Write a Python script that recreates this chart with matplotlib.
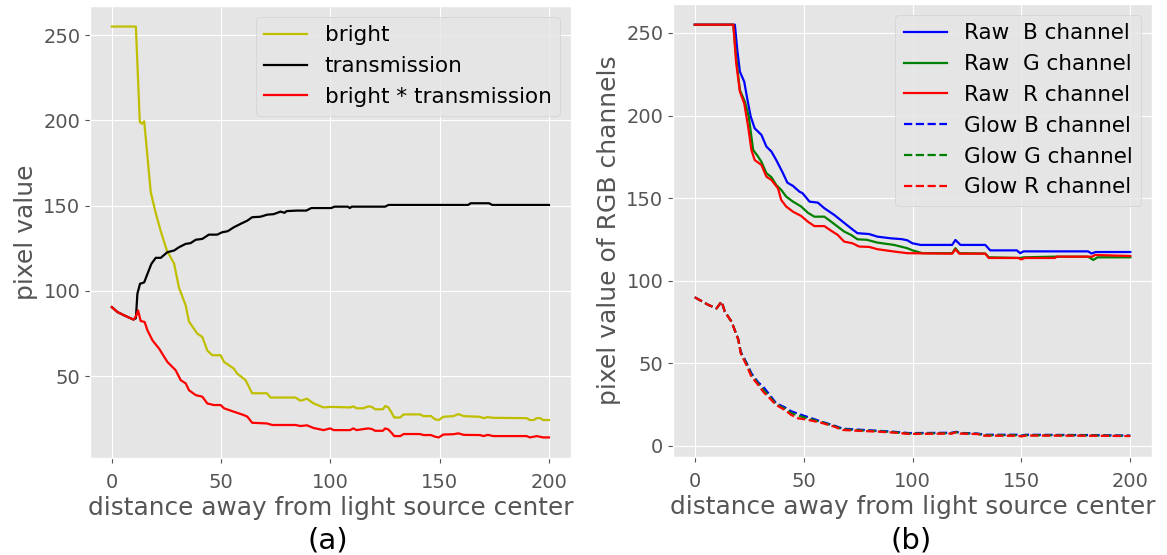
import matplotlib
matplotlib.use("Agg")
import matplotlib.pyplot as plt

plt.style.use("ggplot")

# ---- (a) bright / transmission ----
bright = [(0, 255), (11, 255), (12.8, 199), (13.8, 198), (14.8, 199.5), (15.5, 190),
          (17.8, 158), (20, 146), (22.4, 135), (25.1, 124), (28.5, 116), (30.7, 102),
          (33.8, 91.5), (35.3, 82), (39.1, 75), (41.4, 73), (43.7, 65), (46, 62.3),
          (49.8, 62.3), (51.3, 58.4), (55.8, 54.5), (57.3, 51.6), (61.2, 47.7), (64.2, 40),
          (71, 40), (72.6, 37.5), (84, 37.5), (86.3, 35.6), (89.3, 36.8), (92.4, 34),
          (96.9, 31.7), (99.9, 32), (109, 31.7), (110.5, 32.3), (112, 31.2), (115, 31.2),
          (117.3, 32.3), (119, 32), (120.5, 30.6), (124, 30.6), (125.1, 32.5), (126.5, 31.8),
          (128.2, 28.2), (129.2, 25.8), (132, 25.8), (133.5, 27.6), (141, 27.6), (142.6, 26.6),
          (146, 26.6), (148, 24.7), (149.6, 24.3), (151.7, 26.2), (156.3, 26.6), (158.6, 27.8),
          (161, 26.6), (168.5, 26.2), (170, 25.4), (172, 26), (174.6, 25.6), (189.8, 25.4),
          (191.3, 24.3), (193, 24.3), (194.4, 25.4), (196, 25.4), (197.4, 24.3), (200, 24.3)]

transmission = [(0, 90.5), (2.6, 87.6), (5.6, 85.7), (9.9, 83.2), (11, 84), (11.7, 98.4),
                (12.9, 104.2), (14.8, 105), (16.3, 110), (18.1, 115.9), (20.1, 119.4),
                (22.4, 119.4), (25.4, 122.7), (28.5, 123.7), (30.7, 125.6), (33.8, 127.6),
                (36, 128), (38.4, 130), (41.4, 130.5), (44.4, 133), (48.2, 133), (50.5, 134.4),
                (53, 135), (55.8, 137.3), (58.9, 139.3), (62, 141.2), (64.2, 143.2), (68, 143.5),
                (71.1, 144.7), (74, 145), (77.2, 146.5), (79, 145.8), (80, 146.8), (84.8, 147.1),
                (89, 147.1), (91.3, 148.6), (100.4, 148.6), (101.9, 149.4), (108, 149.4),
                (108.9, 148.6), (109.8, 149.4), (125, 149.4), (126.6, 150.4), (163, 150.4),
                (164.2, 151.4), (172.6, 151.4), (174.1, 150.4), (200, 150.4)]

product = [(0, 90.5), (2.6, 87.6), (5.6, 85.7), (9.9, 83.2), (11, 85), (12, 88.6), (13.2, 82.4),
           (15, 81.8), (16.3, 76.9), (18.6, 71), (21.6, 66.2), (25.4, 58.4), (29.2, 53.5),
           (31.5, 47.7), (33.8, 45.8), (35.3, 41.8), (38.4, 38.9), (41.4, 38), (43.7, 34),
           (46.7, 33.1), (49.8, 33.1), (51.3, 31.2), (55.8, 29.2), (60.4, 27.2), (62, 26.3),
           (64.2, 22.7), (71, 22.3), (73.4, 21.4), (84, 21.4), (86.3, 20.8), (89.3, 21.2),
           (92.4, 19.6), (96.9, 18.4), (99.9, 19.4), (101.5, 18.4), (109, 18.4), (110.5, 19.4),
           (112, 18.4), (117.3, 19.4), (119, 19), (120.5, 18), (124, 18), (125.1, 19.4),
           (126.5, 18.8), (128.2, 16.5), (129.2, 14.9), (132, 14.9), (133.5, 16.1), (141, 16.1),
           (142.6, 15.5), (146, 15.5), (148, 14.5), (149.6, 14.1), (151.7, 15.8), (156.3, 16),
           (158.6, 16.5), (161, 15.6), (168.5, 15.5), (170, 14.9), (172, 15.6), (174.6, 14.9),
           (189.8, 14.9), (191.3, 14.1), (194.4, 14.9), (197.4, 14.1), (200, 14.1)]

# ---- (b) raw / glow RGB channels ----
raw_b = [(0, 255), (18.4, 255), (19.5, 240), (20.7, 226.6), (22.7, 220.5), (24.2, 209.4),
         (25.7, 199.3), (27.5, 192.3), (30.6, 188.3), (32.9, 181.2), (35.2, 178.2),
         (37.4, 173.1), (40.5, 165.1), (42.5, 159.4), (45.1, 157.4), (48.1, 153.9),
         (49.5, 153), (52.7, 147.9), (56.5, 147.3), (59.5, 143.9), (64.1, 139.8),
         (67.9, 135.8), (71.7, 131.8), (74.7, 128.8), (80, 128.3), (83.9, 126.7), (90, 125.7),
         (95, 125.2), (97.6, 124.5), (99.9, 122.7), (103.7, 121.7), (118.2, 121.7),
         (119.7, 124.7), (122, 121.7), (133.4, 121.7), (135.7, 118.4), (147.9, 118.4),
         (149.4, 116.7), (151, 117.8), (180.6, 117.8), (182.2, 116.5), (184.1, 117.4),
         (200, 117.4)]

raw_g = [(0, 255), (17.7, 255), (19, 235), (20.7, 215.5), (23, 208.4), (24.8, 199.3),
         (26.8, 179.2), (29.1, 175.1), (30.6, 172), (32.9, 165.1), (35.2, 162.7), (37.4, 158),
         (39.7, 155), (42, 150.9), (45.1, 147.9), (48.9, 144.9), (51.9, 141.2), (54.9, 138.8),
         (59.5, 138.8), (62.6, 135.8), (65.6, 132.8), (68.6, 129.8), (71.7, 127.8),
         (74.7, 125.1), (79, 124.8), (83.9, 123.1), (91.5, 121.7), (97.6, 119.7), (100, 118.4),
         (104.5, 116.7), (118.2, 116.7), (119.7, 119.7), (121.5, 116.7), (133.4, 116.5),
         (135, 114.2), (149.4, 113.8), (151, 114.2), (165.4, 114.6), (180.6, 114.6),
         (183, 112.6), (185, 114.2), (200, 114.2)]

raw_r = [(0, 255), (17.7, 255), (19, 232), (20.7, 214.5), (22.7, 207.4), (24.5, 193.3),
         (26, 179.2), (27.5, 173.1), (30.6, 170.1), (32.9, 163), (35.2, 161), (38.2, 156),
         (39.7, 148.9), (42, 144.9), (45.1, 141.8), (48.9, 139.2), (51.9, 135.8), (54.9, 133.1),
         (59.5, 133.1), (62.6, 130.3), (65.6, 127.8), (68.6, 123.7), (72.4, 122.7),
         (75.5, 120.7), (80, 120.5), (83.9, 119.1), (91.5, 117.7), (97.6, 116.7),
         (118.2, 116.4), (119.7, 119), (121.5, 116.4), (133.4, 116.4), (135, 113.8),
         (148.5, 113.8), (150, 112.9), (151.5, 113.8), (165.4, 113.8), (166.2, 114.6),
         (182.5, 114.6), (183.8, 115.6), (200, 115)]

glow_b = [(0, 90), (6.2, 85.4), (10, 83.3), (12.3, 87.4), (13.8, 81.3), (16.9, 75.2), (20, 64.5),
          (21.1, 57), (23.7, 50.5), (26, 44), (29.1, 38.5), (31.4, 35.9), (34.4, 30.9),
          (37.4, 25.8), (41.3, 23.4), (44.3, 21), (49, 18.8), (52, 17.5), (58, 14.8),
          (64.1, 12.3), (67.9, 10.5), (76.3, 9.8), (83.9, 9.2), (91.5, 8.6), (98.3, 7.8),
          (118, 8), (120, 8.6), (122, 7.9), (130, 7.5), (133, 6.8), (148, 6.8), (150, 6.3),
          (152, 6.8), (180, 6.6), (200, 6.3)]

glow_g = [(0, 90), (6.2, 85.4), (10, 83.3), (12.3, 87.4), (13.8, 81.3), (16.9, 75.2), (20, 64.3),
          (21.1, 56.5), (23.7, 49.8), (26, 43), (29.1, 37.7), (31.4, 34.2), (34.4, 29.8),
          (37.4, 25.3), (41.3, 22.6), (44.3, 19.9), (49, 17.8), (52, 16.6), (58, 14.5),
          (64.1, 12), (67.9, 10.1), (76.3, 9.4), (83.9, 9), (91.5, 8.3), (98.3, 7.5),
          (118, 7.7), (120, 8.4), (122, 7.7), (130, 7.3), (133, 6.5), (148, 6.5), (150, 6),
          (152, 6.5), (180, 6.4), (200, 6.1)]

glow_r = [(0, 90), (6.2, 85.4), (10, 83.3), (12.3, 87.4), (13.8, 81.3), (16.9, 75.2), (20, 64.2),
          (21.1, 56.1), (23.7, 49), (26, 42), (29.1, 37), (31.4, 32.9), (34.4, 28.9),
          (37.4, 24.8), (41.3, 21.8), (44.3, 18.8), (47.3, 16.8), (52, 15.8), (58, 14.1),
          (64.1, 11.7), (67.9, 9.7), (76.3, 9.1), (83.9, 8.7), (91.5, 8.1), (98.3, 7.3),
          (118, 7.5), (120, 8.3), (122, 7.5), (130, 7.2), (133, 6.2), (148, 6.2), (150, 5.8),
          (152, 6.3), (180, 6.2), (200, 6)]


def xy(pts):
    return [p[0] for p in pts], [p[1] for p in pts]


fig = plt.figure(figsize=(11.67, 5.55), dpi=100)
ax1 = fig.add_axes([0.0771, 0.1748, 0.412, 0.8144])
ax2 = fig.add_axes([0.5767, 0.1766, 0.4105, 0.816])

lw = 1.6
ax1.plot(*xy(bright), color="y", lw=lw, label="bright")
ax1.plot(*xy(transmission), color="k", lw=lw, label="transmission")
ax1.plot(*xy(product), color="r", lw=lw, label="bright * transmission")
ax1.set_ylabel("pixel value", fontsize=18)
ax1.set_xlabel("distance away from light source center", fontsize=17.8, labelpad=3)
ax1.set_yticks([50, 100, 150, 200, 250])
ax1.legend(loc="upper right", fontsize=15.5)

ax2.plot(*xy(raw_b), color="b", lw=lw, label="Raw  B channel")
ax2.plot(*xy(raw_g), color="g", lw=lw, label="Raw  G channel")
ax2.plot(*xy(raw_r), color="r", lw=lw, label="Raw  R channel")
ax2.plot(*xy(glow_b), color="b", lw=lw, ls="--", label="Glow B channel")
ax2.plot(*xy(glow_g), color="g", lw=lw, ls="--", label="Glow G channel")
ax2.plot(*xy(glow_r), color="r", lw=lw, ls="--", label="Glow R channel")
ax2.set_ylabel("pixel value of RGB channels", fontsize=18)
ax2.set_xlabel("distance away from light source center", fontsize=17.8, labelpad=3)
ax2.legend(loc="upper right", fontsize=15.5)

for ax in (ax1, ax2):
    ax.set_xticks([0, 50, 100, 150, 200])
    ax.tick_params(labelsize=14)
    ax.tick_params(axis="x", pad=7)

fig.text(0.281, 0.012, "(a)", fontsize=21, ha="center")
fig.text(0.781, 0.012, "(b)", fontsize=21, ha="center")

fig.savefig("out.png", dpi=100)
